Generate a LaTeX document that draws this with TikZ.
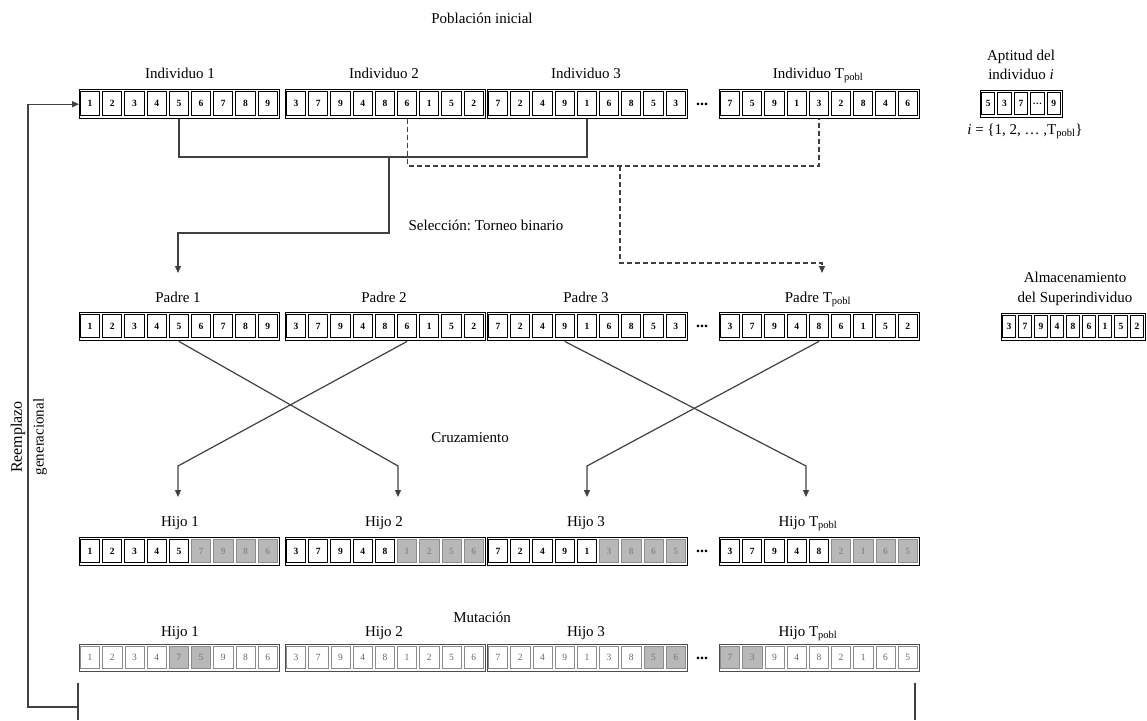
\documentclass[tikz,border=0pt]{standalone}
\usepackage{fontspec}
\setmainfont{Liberation Serif}
\usetikzlibrary{arrows.meta}
\frenchspacing

% #1 name, #2 left, #3 top, #4 cell width, #5 height, #6 cell count, #7 frame style, #8 digit/style list
\newcommand\chromo[8]{%
  \pgfmathsetmacro\chromoW{#4*#6}%
  \node[#7, minimum width=\chromoW pt, minimum height=#5pt, anchor=north west] (#1) at (#2,#3) {};
  \foreach \d/\s [count=\k] in {#8} {
    \node[cell\s, minimum width={(#4-3)*1pt}, minimum height={(#5-5)*1pt}] (#1-\k)
      at ({#2+(\k-0.5)*#4},{#3+#5/2}) {\d};
  }%
}

\begin{document}
\begin{tikzpicture}[x=1pt,y=-1pt,
  lbl/.style={inner sep=0pt, anchor=base, font=\fontsize{15}{17}\selectfont},
  frame/.style={draw, line width=1.4pt, inner sep=0pt},
  mframe/.style={draw=black!70, line width=0.9pt, inner sep=0pt},
  cellbase/.style={inner sep=0pt, font=\fontsize{9.5}{9.5}\selectfont\bfseries},
  celln/.style={cellbase, draw, line width=0.9pt, fill=white},
  cellg/.style={cellbase, draw=black!45, line width=0.6pt, fill=black!28, text=black!45},
  cellm/.style={cellbase, draw=black!45, line width=0.6pt, fill=white, text=black!60, font=\fontsize{9.5}{9.5}\selectfont},
  cellmg/.style={cellbase, draw=black!45, line width=0.6pt, fill=black!28, text=black!55, font=\fontsize{9.5}{9.5}\selectfont},
  conn/.style={draw=black!75, line width=1.2pt},
  dconn/.style={conn, dash pattern=on 5pt off 3pt},
  tip/.style={-{Triangle[length=7pt,width=6pt]}},
  dots/.style={inner sep=0pt, font=\fontsize{16}{16}\selectfont\bfseries}
]
\useasboundingbox (0,0) rectangle (1147,720);

% ---------- initial population ----------
\node[lbl] (tpop) at (482,23) {Población inicial};
\node[lbl] (l-i1) at (180,78) {Individuo 1};
\node[lbl] (l-i2) at (384,78) {Individuo 2};
\node[lbl] (l-i3) at (586,78) {Individuo 3};
\node[lbl] (l-iT) at (818,78) {Individuo T\textsubscript{pobl}};

\chromo{ind1}{79}{89}{22.2}{29}{9}{frame}{1/n,2/n,3/n,4/n,5/n,6/n,7/n,8/n,9/n}
\chromo{ind2}{285}{89}{22.2}{29}{9}{frame}{3/n,7/n,9/n,4/n,8/n,6/n,1/n,5/n,2/n}
\chromo{ind3}{487}{89}{22.2}{29}{9}{frame}{7/n,2/n,4/n,9/n,1/n,6/n,8/n,5/n,3/n}
\chromo{indT}{719}{89}{22.2}{29}{9}{frame}{7/n,5/n,9/n,1/n,3/n,2/n,8/n,4/n,6/n}
\node[dots] (d1) at (702,104) {...};

% fitness vector
\node[lbl] (l-apt1) at (1021,60) {Aptitud del};
\node[lbl] (l-apt2) at (1021,79) {individuo \textit{i}};
\chromo{apt}{980}{90}{16.4}{27}{5}{frame}{5/n,3/n,7/n,\ldots/n,9/n}
\node[lbl] (l-apt3) at (1025,134) {\textit{i} = \{1, 2, \dots\ ,T\textsubscript{pobl}\}};

% ---------- binary tournament selection ----------
\coordinate (selA) at (389,157);
\coordinate (selB) at (389,233);
\coordinate (selAend) at (178,273);
\draw[conn] (ind1-5 |- ind1.south) -- (ind1-5 |- selA) -- (ind3-5 |- selA) -- (ind3-5 |- ind3.south);
\draw[conn,tip] (selA) -- (selB) -- (selB -| selAend) -- (selAend);

\coordinate (selC) at (620,166);
\coordinate (selD) at (620,263);
\coordinate (selCend) at (822,273);
\draw[dconn] (ind2-6 |- ind2.south) -- (ind2-6 |- selC) -- (indT-5 |- selC) -- (indT-5 |- indT.south);
\draw[dconn,tip] (selC) -- (selD) -- (selD -| selCend) -- (selCend);

\node[lbl] (tsel) at (486,230) {Selección: Torneo binario};

% ---------- parents ----------
\node[lbl] (l-p1) at (178,302) {Padre 1};
\node[lbl] (l-p2) at (384,302) {Padre 2};
\node[lbl] (l-p3) at (586,302) {Padre 3};
\node[lbl] (l-pT) at (818,302) {Padre T\textsubscript{pobl}};

\chromo{pad1}{79}{312}{22.2}{28}{9}{frame}{1/n,2/n,3/n,4/n,5/n,6/n,7/n,8/n,9/n}
\chromo{pad2}{285}{312}{22.2}{28}{9}{frame}{3/n,7/n,9/n,4/n,8/n,6/n,1/n,5/n,2/n}
\chromo{pad3}{487}{312}{22.2}{28}{9}{frame}{7/n,2/n,4/n,9/n,1/n,6/n,8/n,5/n,3/n}
\chromo{padT}{719}{312}{22.2}{28}{9}{frame}{3/n,7/n,9/n,4/n,8/n,6/n,1/n,5/n,2/n}
\node[dots] (d2) at (702,326) {...};

% best individual storage
\node[lbl] (l-sup1) at (1075,282) {Almacenamiento};
\node[lbl] (l-sup2) at (1075,302) {del Superindividuo};
\chromo{sup}{1001}{313}{16}{27}{9}{frame}{3/n,7/n,9/n,4/n,8/n,6/n,1/n,5/n,2/n}

% ---------- crossover ----------
\coordinate (x1) at (398,466);  \coordinate (x1e) at (398,497);
\coordinate (x2) at (178,466);  \coordinate (x2e) at (178,497);
\coordinate (x3) at (806,466);  \coordinate (x3e) at (806,497);
\coordinate (x4) at (587,466);  \coordinate (x4e) at (587,497);
\draw[conn,tip] (pad1-5 |- pad1.south) -- (x1) -- (x1e);
\draw[conn,tip] (pad2-6 |- pad2.south) -- (x2) -- (x2e);
\draw[conn,tip] (pad3-4 |- pad3.south) -- (x3) -- (x3e);
\draw[conn,tip] (padT-5 |- padT.south) -- (x4) -- (x4e);
\node[lbl] (tcruz) at (470,442) {Cruzamiento};

% ---------- offspring ----------
\node[lbl] (l-h1) at (180,526) {Hijo 1};
\node[lbl] (l-h2) at (384,526) {Hijo 2};
\node[lbl] (l-h3) at (586,526) {Hijo 3};
\node[lbl] (l-hT) at (808,526) {Hijo T\textsubscript{pobl}};

\chromo{hij1}{79}{537}{22.2}{28}{9}{frame}{1/n,2/n,3/n,4/n,5/n,7/g,9/g,8/g,6/g}
\chromo{hij2}{285}{537}{22.2}{28}{9}{frame}{3/n,7/n,9/n,4/n,8/n,1/g,2/g,5/g,6/g}
\chromo{hij3}{487}{537}{22.2}{28}{9}{frame}{7/n,2/n,4/n,9/n,1/n,3/g,8/g,6/g,5/g}
\chromo{hijT}{719}{537}{22.2}{28}{9}{frame}{3/n,7/n,9/n,4/n,8/n,2/g,1/g,6/g,5/g}
\node[dots] (d3) at (702,551) {...};

% ---------- mutation ----------
\node[lbl] (tmut) at (482,622) {Mutación};
\node[lbl] (l-m1) at (180,636) {Hijo 1};
\node[lbl] (l-m2) at (384,636) {Hijo 2};
\node[lbl] (l-m3) at (586,636) {Hijo 3};
\node[lbl] (l-mT) at (808,636) {Hijo T\textsubscript{pobl}};

\chromo{mut1}{79}{644}{22.2}{27}{9}{mframe}{1/m,2/m,3/m,4/m,7/mg,5/mg,9/m,8/m,6/m}
\chromo{mut2}{285}{644}{22.2}{27}{9}{mframe}{3/m,7/m,9/m,4/m,8/m,1/m,2/m,5/m,6/m}
\chromo{mut3}{487}{644}{22.2}{27}{9}{mframe}{7/m,2/m,4/m,9/m,1/m,3/m,8/m,5/mg,6/mg}
\chromo{mutT}{719}{644}{22.2}{27}{9}{mframe}{7/mg,3/mg,9/m,4/m,8/m,2/m,1/m,6/m,5/m}
\node[dots] (d4) at (702,658) {...};

% ---------- generational replacement ----------
\coordinate (brL) at (78,683);
\coordinate (brR) at (915,683);
\draw[conn] (brL) -- (78,720);
\draw[conn] (brR) -- (915,720);
\coordinate (fb) at (78,707);
\coordinate (fbx) at (28,707);
\draw[conn,tip] (fb) -- (fbx) |- (ind1.west);
\node[lbl, anchor=center, rotate=90, font=\fontsize{16}{16}\selectfont] (trep1) at (18,437) {Reemplazo};
\node[lbl, anchor=center, rotate=90] (trep2) at (40,437) {generacional};
\end{tikzpicture}
\end{document}
